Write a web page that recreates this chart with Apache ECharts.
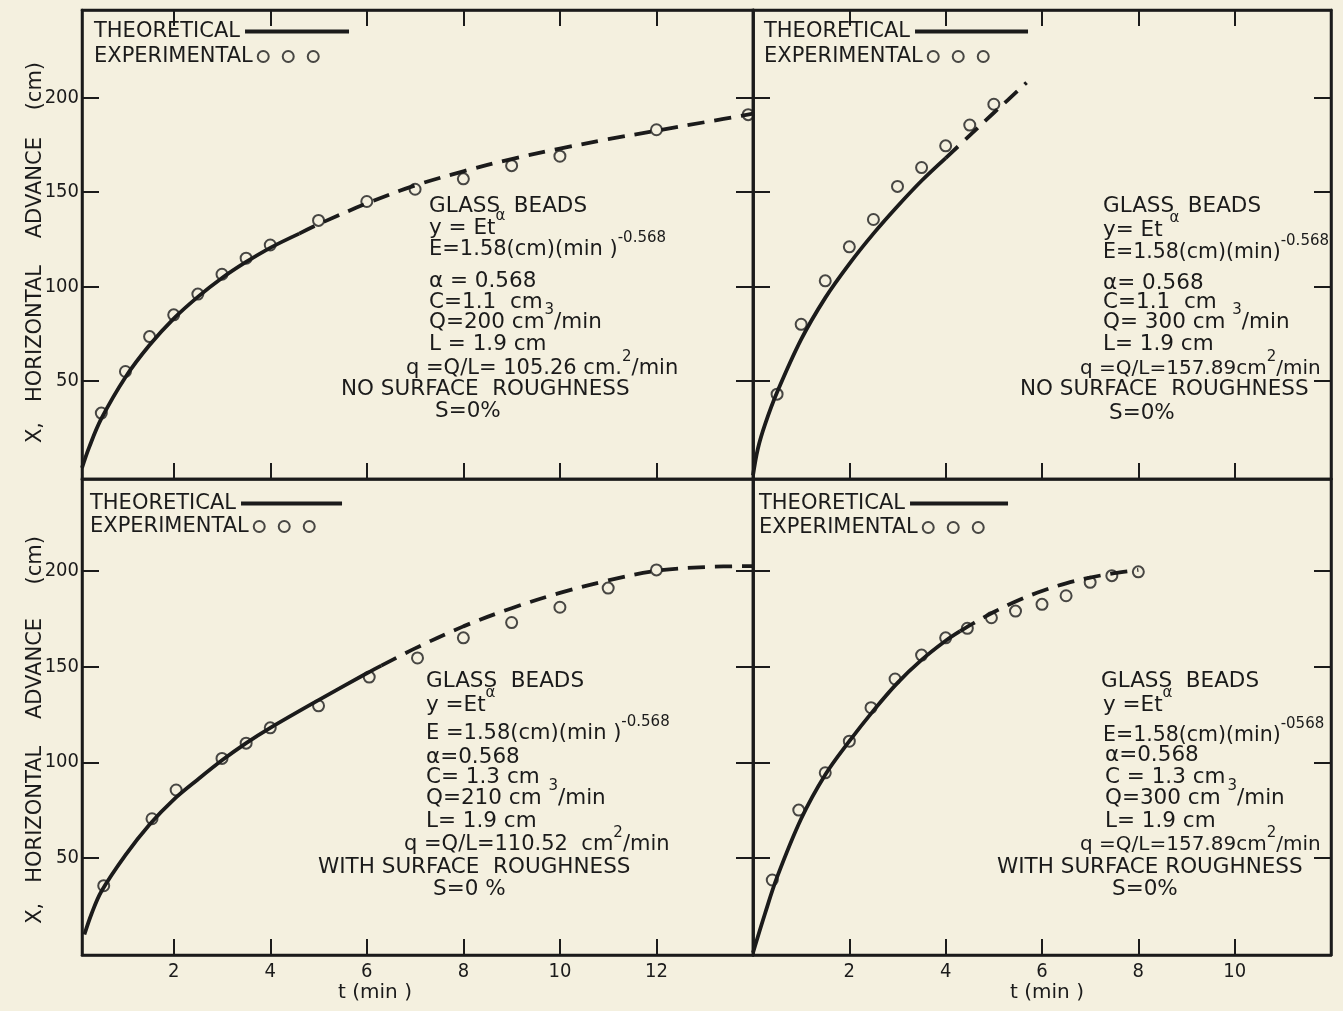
<!DOCTYPE html>
<html>
<head>
<meta charset="utf-8">
<script src="https://cdn.jsdelivr.net/npm/echarts@6/dist/echarts.min.js"></script>
<style>
html,body{margin:0;padding:0;background:#f4f0df;}
#chart{width:1343px;height:1011px;}
</style>
</head>
<body>
<div id="chart"></div>
<script>
// ---------- tick labels ----------
const leftTimeTicks = [2, 4, 6, 8, 10, 12];
const rightTimeTicks = [2, 4, 6, 8, 10];
const advanceTicks = [50, 100, 150, 200];

// ---------- Top-left: Q=200, no roughness ----------
const tlExpT = [0.5, 1, 1.5, 2, 2.5, 3, 3.5, 4, 5, 6, 7, 8, 9, 10, 12, 13.9];
const tlExpX = [33, 55, 73.5, 85, 96, 106.5, 115, 122, 135, 145, 151.5, 157, 164, 169, 183, 191];
const tlSolidT = [0.1, 0.25, 0.5, 1, 1.5, 2, 2.5, 3, 3.5, 4, 4.6];
const tlSolidX = [4, 15, 30, 52, 69, 83, 94.5, 104.5, 113, 120.5, 128];
const tlDashT = [4.6, 5, 6, 7, 8, 9, 10, 11, 12, 13, 14];
const tlDashX = [128, 133, 144, 153.5, 161, 167.5, 173, 178, 182.5, 187, 191.5];

// ---------- Top-right: Q=300, no roughness ----------
const trExpT = [0.5, 1, 1.5, 2, 2.5, 3, 3.5, 4, 4.5, 5];
const trExpX = [43, 80, 103, 121, 135.5, 153, 163, 174.5, 185.5, 196.5];
const trSolidT = [0, 0.1, 0.25, 0.5, 1, 1.5, 2, 2.5, 3, 3.5, 4];
const trSolidX = [0, 14, 27, 44, 72, 94, 112, 128, 142.5, 156, 168];
const trDashT = [4, 4.5, 5, 5.3, 5.68];
const trDashX = [168, 180, 192, 199, 208];

// ---------- Bottom-left: Q=210, with roughness ----------
const blExpT = [0.55, 1.55, 2.05, 3, 3.5, 4, 5, 6.05, 7.05, 8, 9, 10, 11, 12];
const blExpX = [35.5, 70.5, 85.5, 102, 110, 118, 129.5, 144.5, 154.5, 165, 173, 181, 191, 200.5];
const blSolidT = [0.15, 0.3, 0.5, 1, 1.5, 2, 2.5, 3, 3.5, 4, 5, 6, 6.3];
const blSolidX = [10, 21, 32.5, 51.5, 67.5, 80.5, 91, 101, 110, 118, 132.5, 146.5, 150.5];
const blDashT = [6.3, 7, 8, 9, 10, 11, 12, 13, 14];
const blDashX = [150.5, 159.5, 171, 180.5, 188.5, 195, 200, 202, 202.5];

// ---------- Bottom-right: Q=300, with roughness ----------
const brExpT = [0.4, 0.95, 1.5, 2, 2.45, 2.95, 3.5, 4, 4.45, 4.95, 5.45, 6, 6.5, 7, 7.45, 8];
const brExpX = [38.5, 75, 94.5, 111, 128.5, 143.5, 156, 165, 170, 175.5, 179, 182.5, 187, 194, 197.5, 199.5];
const brSolidT = [0, 0.25, 0.5, 1, 1.5, 2, 2.5, 3, 3.5, 4, 4.3];
const brSolidX = [0.5, 21, 40, 70.5, 93.5, 111, 127, 141.5, 153.5, 163.5, 168.5];
const brDashT = [4.3, 4.6, 5, 5.5, 6, 6.5, 7, 7.5, 8];
const brDashX = [168.5, 173, 178.5, 184.5, 189.5, 193.5, 196.5, 198.8, 200.5];

// ---------- styling ----------
const INK = '#1b1b1b';
const BG = '#f4f0df';
const FONT = "'DejaVu Sans', 'Liberation Sans', sans-serif";
const FONT_C = "'DejaVu Sans Condensed', 'DejaVu Sans', sans-serif";

const zip = (a, b) => a.map((v, i) => [v, b[i]]);

function xAxis(grid, pos, min, max, ticks, labels, name, namePad) {
  return {
    type: 'value', gridIndex: grid, position: pos, min: min, max: max,
    axisLine: { show: true, onZero: false, lineStyle: { color: INK, width: 2.5 } },
    axisTick: { show: true, inside: true, length: 16, customValues: ticks, lineStyle: { color: INK, width: 2 } },
    axisLabel: { show: labels, customValues: ticks, margin: 7, color: INK, fontSize: 20, fontFamily: FONT_C },
    splitLine: { show: false },
    name: name || '', nameLocation: 'middle', nameGap: 26,
    nameTextStyle: { color: INK, fontSize: 20, fontFamily: FONT, padding: namePad || 0 }
  };
}
function yAxis(grid, pos, min, max, labels, name, namePad) {
  return {
    type: 'value', gridIndex: grid, position: pos, min: min, max: max,
    axisLine: { show: true, onZero: false, lineStyle: { color: INK, width: 2.5 } },
    axisTick: { show: true, inside: true, length: 17, customValues: advanceTicks, lineStyle: { color: INK, width: 2 } },
    axisLabel: { show: labels, customValues: advanceTicks, margin: 3, color: INK, fontSize: 20, fontFamily: FONT_C },
    splitLine: { show: false },
    name: name || '', nameLocation: 'middle', nameGap: 36, nameRotate: 90, nameMoveOverlap: false,
    nameTextStyle: { color: INK, fontSize: 21, fontFamily: FONT, padding: namePad || 0 }
  };
}

const Y_NAME_TOP = 'X,   HORIZONTAL    ADVANCE    (cm)';
const Y_NAME_BOTTOM = 'X,   HORIZONTAL    ADVANCE     (cm)';

const xAxes = [
  xAxis(0, 'bottom', 0.1, 14, leftTimeTicks, false),
  xAxis(0, 'top', 0.1, 14, leftTimeTicks, false),
  xAxis(1, 'bottom', 0, 12, rightTimeTicks, false),
  xAxis(1, 'top', 0, 12, rightTimeTicks, false),
  xAxis(2, 'bottom', 0.1, 14, leftTimeTicks, true, 't (min )', [0, 85, 0, 0]),
  xAxis(3, 'bottom', 0, 12, rightTimeTicks, true, 't (min )', [0, 0, 0, 10])
];
const yAxes = [
  yAxis(0, 'left', -1.9, 246.4, true, Y_NAME_TOP, [0, 16, 0, 0]),
  yAxis(0, 'right', -1.9, 246.4, false),
  yAxis(1, 'left', -1.9, 246.4, false),
  yAxis(1, 'right', -1.9, 246.4, false),
  yAxis(2, 'left', -0.7, 248, true, Y_NAME_BOTTOM, [0, 26, 0, 0]),
  yAxis(2, 'right', -0.7, 248, false),
  yAxis(3, 'left', -0.7, 248, false),
  yAxis(3, 'right', -0.7, 248, false)
];

function panelSeries(xi, yi, expT, expX, sT, sX, dT, dX) {
  return [
    { name: 'THEORETICAL', type: 'line', xAxisIndex: xi, yAxisIndex: yi, data: zip(sT, sX),
      smooth: 0.35, symbol: 'none', lineStyle: { color: INK, width: 3.8 }, z: 2 },
    { name: 'THEORETICAL', type: 'line', xAxisIndex: xi, yAxisIndex: yi, data: zip(dT, dX),
      smooth: 0.35, symbol: 'none', lineStyle: { color: INK, width: 3.8, type: [17, 10] }, z: 2 },
    { name: 'EXPERIMENTAL', type: 'scatter', xAxisIndex: xi, yAxisIndex: yi, data: zip(expT, expX),
      symbol: 'circle', symbolSize: 11,
      itemStyle: { color: 'rgba(0,0,0,0)', borderColor: INK, borderWidth: 2 }, z: 3 }
  ];
}

const RINGS = 'path://M0,5.5a5.5,5.5 0 1,0 11,0a5.5,5.5 0 1,0 -11,0zM25,5.5a5.5,5.5 0 1,0 11,0a5.5,5.5 0 1,0 -11,0zM50,5.5a5.5,5.5 0 1,0 11,0a5.5,5.5 0 1,0 -11,0z';

function legendTheo(left, cy, w) {
  return { left: left, top: cy - 12, padding: 0, orient: 'horizontal', align: 'right',
    selectedMode: false, itemWidth: w, itemHeight: 4,
    data: [{ name: 'THEORETICAL', icon: 'rect' }],
    itemStyle: { color: INK, borderWidth: 0 },
    textStyle: { color: INK, fontSize: 21, fontFamily: FONT } };
}
function legendExp(left, cy) {
  return { left: left, top: cy - 12, padding: 0, orient: 'horizontal', align: 'right',
    selectedMode: false, itemWidth: 61, itemHeight: 11,
    data: [{ name: 'EXPERIMENTAL', icon: RINGS }],
    itemStyle: { color: 'rgba(0,0,0,0)', borderColor: INK, borderWidth: 2 },
    textStyle: { color: INK, fontSize: 21, fontFamily: FONT } };
}

const RICH = { s: { fontSize: 15, lineHeight: 16, padding: [0, 0, 16, 0], verticalAlign: 'bottom', fontFamily: FONT, fill: INK } };
function txt(x, cy, text, size) {
  return { type: 'text', x: x, y: cy + 12, silent: true,
    style: { text: text, fill: INK, fontSize: size || 21.5, fontFamily: FONT, lineHeight: 24,
      align: 'left', verticalAlign: 'bottom', rich: RICH } };
}

const notes = [
  // top-left
  txt(429, 206, 'GLASS  BEADS'),
  txt(429, 228, 'y = Et{s|α}'),
  txt(429, 250, 'E=1.58(cm)(min ){s|-0.568}', 21),
  txt(429, 281, 'α = 0.568'),
  txt(429, 302, 'C=1.1  cm'),
  txt(429, 322, 'Q=200 cm{s|3}/min'),
  txt(429, 344, 'L = 1.9 cm'),
  txt(406, 369, 'q =Q/L= 105.26 cm.{s|2}/min', 21),
  txt(341, 389, 'NO SURFACE  ROUGHNESS'),
  txt(435, 411, 'S=0%'),
  // top-right
  txt(1103, 206, 'GLASS  BEADS'),
  txt(1103, 230, 'y= Et {s|α}'),
  txt(1103, 253, 'E=1.58(cm)(min){s|-0.568}', 20.5),
  txt(1103, 283, 'α= 0.568'),
  txt(1103, 302, 'C=1.1  cm'),
  txt(1103, 322, 'Q= 300 cm {s|3}/min'),
  txt(1103, 344, 'L= 1.9 cm'),
  txt(1080, 369, 'q =Q/L=157.89cm{s|2}/min', 20),
  txt(1020, 389, 'NO SURFACE  ROUGHNESS'),
  txt(1109, 413, 'S=0%'),
  // bottom-left
  txt(426, 681, 'GLASS  BEADS'),
  txt(426, 705, 'y =Et{s|α}'),
  txt(426, 734, 'E =1.58(cm)(min ){s|-0.568}', 21),
  txt(426, 757, 'α=0.568'),
  txt(426, 777, 'C= 1.3 cm'),
  txt(426, 798, 'Q=210 cm {s|3}/min'),
  txt(426, 821, 'L= 1.9 cm'),
  txt(404, 845, 'q =Q/L=110.52  cm{s|2}/min', 21),
  txt(318, 867, 'WITH SURFACE  ROUGHNESS'),
  txt(433, 889, 'S=0 %'),
  // bottom-right
  txt(1101, 681, 'GLASS  BEADS'),
  txt(1103, 705, 'y =Et{s|α}'),
  txt(1103, 736, 'E=1.58(cm)(min){s|-0568}', 20.5),
  txt(1105, 755, 'α=0.568'),
  txt(1105, 777, 'C = 1.3 cm'),
  txt(1105, 798, 'Q=300 cm {s|3}/min'),
  txt(1105, 821, 'L= 1.9 cm'),
  txt(1080, 845, 'q =Q/L=157.89cm{s|2}/min', 20),
  txt(997, 867, 'WITH SURFACE ROUGHNESS'),
  txt(1112, 889, 'S=0%')
];

const option = {
  backgroundColor: BG,
  animation: false,
  grid: [
    { left: 82, top: 10, width: 671, height: 469, show: true, borderColor: INK, borderWidth: 2.5, backgroundColor: 'transparent' },
    { left: 753, top: 10, width: 578, height: 469, show: true, borderColor: INK, borderWidth: 2.5, backgroundColor: 'transparent' },
    { left: 82, top: 479, width: 671, height: 476, show: true, borderColor: INK, borderWidth: 2.5, backgroundColor: 'transparent' },
    { left: 753, top: 479, width: 578, height: 476, show: true, borderColor: INK, borderWidth: 2.5, backgroundColor: 'transparent' }
  ],
  xAxis: xAxes,
  yAxis: yAxes,
  legend: [
    legendTheo(94, 33, 104), legendExp(94, 58),
    legendTheo(764, 33, 113), legendExp(764, 58),
    legendTheo(90, 505, 101), legendExp(90, 528),
    legendTheo(759, 505, 98), legendExp(759, 529)
  ],
  series: [].concat(
    panelSeries(0, 0, tlExpT, tlExpX, tlSolidT, tlSolidX, tlDashT, tlDashX),
    panelSeries(2, 2, trExpT, trExpX, trSolidT, trSolidX, trDashT, trDashX),
    panelSeries(4, 4, blExpT, blExpX, blSolidT, blSolidX, blDashT, blDashX),
    panelSeries(5, 6, brExpT, brExpX, brSolidT, brSolidX, brDashT, brDashX)
  ),
  graphic: notes
};

const chart = echarts.init(document.getElementById('chart'), null, { renderer: 'canvas' });
chart.setOption(option);
</script>
</body>
</html>
